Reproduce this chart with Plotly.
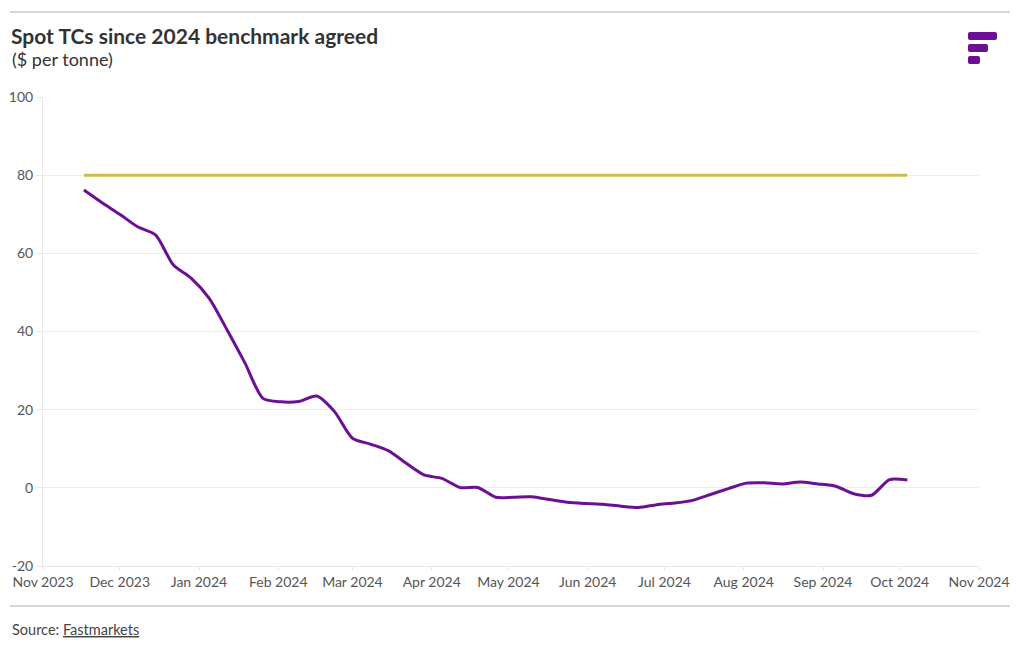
import plotly.graph_objects as go
import pandas as pd

# Weekly assessment dates (Fridays)
dates = pd.date_range("2023-11-17", "2024-10-04", freq="7D")

spot_tc = [76.2, 73.0, 70.0, 66.8, 64.7, 57.0, 53.6, 48.5, 40.4, 31.9,
           22.9, 22.0, 22.1, 23.5, 19.5, 12.7, 11.2, 9.5, 6.3, 3.3,
           2.4, 0.1, 0.1, -2.4, -2.4, -2.3, -3.0, -3.7, -4.0, -4.2,
           -4.7, -5.0, -4.3, -3.9, -3.2, -1.7, -0.2, 1.2, 1.3, 1.0,
           1.5, 1.0, 0.4, -1.5, -1.9, 2.1, 2.0]
benchmark = [80.0] * len(spot_tc)

y_tick_values = [-20, 0, 20, 40, 60, 80, 100]
y_tick_labels = ["-20", "0", "20", "40", "60", "80", "100"]

title = "Spot TCs since 2024 benchmark agreed"
subtitle = "($ per tonne)"
source = "Source: <u>Fastmarkets</u>"

PURPLE = "#6b0f94"
GOLD = "#d4bb3e"
FONT = "Lato"

OFF = 8  # page body margin
W, H = 1020 - 2 * OFF, 650 - 2 * OFF
L, R, T, B = 43 - OFF, 979 - OFF, 97 - OFF, 566 - OFF

fig = go.Figure()
fig.add_trace(go.Scatter(x=dates, y=benchmark, mode="lines",
                         line=dict(color=GOLD, width=3), hoverinfo="skip"))
fig.add_trace(go.Scatter(x=dates, y=spot_tc, mode="lines",
                         line=dict(color=PURPLE, width=3, shape="spline", smoothing=0.7)))


def px(x):
    return (x - OFF - L) / (R - L)


def py(y):
    return (B - (y - OFF)) / (B - T)


def rounded(x0, x1, y0, y1, r):
    rx = r / (R - L)
    ry = r / (B - T)
    a0, a1 = px(x0), px(x1)
    b0, b1 = py(y1), py(y0)  # bottom, top in paper
    return (f"M {a0+rx},{b0} L {a1-rx},{b0} Q {a1},{b0} {a1},{b0+ry} "
            f"L {a1},{b1-ry} Q {a1},{b1} {a1-rx},{b1} L {a0+rx},{b1} "
            f"Q {a0},{b1} {a0},{b1-ry} L {a0},{b0+ry} Q {a0},{b0} {a0+rx},{b0} Z")


shapes = []
for yy in (12, 606):
    shapes.append(dict(type="line", xref="paper", yref="paper",
                       x0=px(10), x1=px(1010), y0=py(yy), y1=py(yy),
                       line=dict(color="#d6d6d6", width=2)))
for (x0, x1, y0, y1) in [(968, 997, 32, 40), (968, 988, 44, 52), (968, 980, 56, 64)]:
    shapes.append(dict(type="path", xref="paper", yref="paper",
                       path=rounded(x0, x1, y0, y1, 2),
                       fillcolor=PURPLE, line=dict(width=0)))

annotations = [
    dict(text="<b>" + title + "</b>", x=px(9), y=py(36), xref="paper", yref="paper",
         xanchor="left", yanchor="middle", showarrow=False,
         font=dict(family=FONT, size=21, color="#333333")),
    dict(text=subtitle, x=px(10), y=py(59), xref="paper", yref="paper",
         xanchor="left", yanchor="middle", showarrow=False,
         font=dict(family=FONT, size=18, color="#333333")),
    dict(text=source, x=px(10), y=py(629), xref="paper", yref="paper",
         xanchor="left", yanchor="middle", showarrow=False,
         font=dict(family=FONT, size=14.5, color="#444444")),
]

fig.update_layout(
    width=W, height=H,
    margin=dict(l=L, r=W - R, t=T, b=H - B, pad=0, autoexpand=False),
    paper_bgcolor="white", plot_bgcolor="white",
    showlegend=False,
    font=dict(family=FONT, size=14, color="#555555"),
    shapes=shapes, annotations=annotations,
    xaxis=dict(range=["2023-11-01", "2024-11-01"], dtick="M1", tickformat="%b %Y",
               showgrid=False, showline=True, linecolor="#e6e6e6", linewidth=1,
               ticks="outside", ticklen=3, tickcolor="#e6e6e6", automargin=False,
               tickfont=dict(family=FONT, size=14, color="#555555")),
    yaxis=dict(range=[-20, 100], tickmode="array", tickvals=y_tick_values,
               ticktext=y_tick_labels, showgrid=True, gridcolor="#ededed",
               zeroline=False, showline=True, linecolor="#e6e6e6",
               ticks="outside", ticklen=6, tickcolor="#e6e6e6", automargin=False,
               tickfont=dict(family=FONT, size=14, color="#555555")),
)

fig.write_html("out.html")
